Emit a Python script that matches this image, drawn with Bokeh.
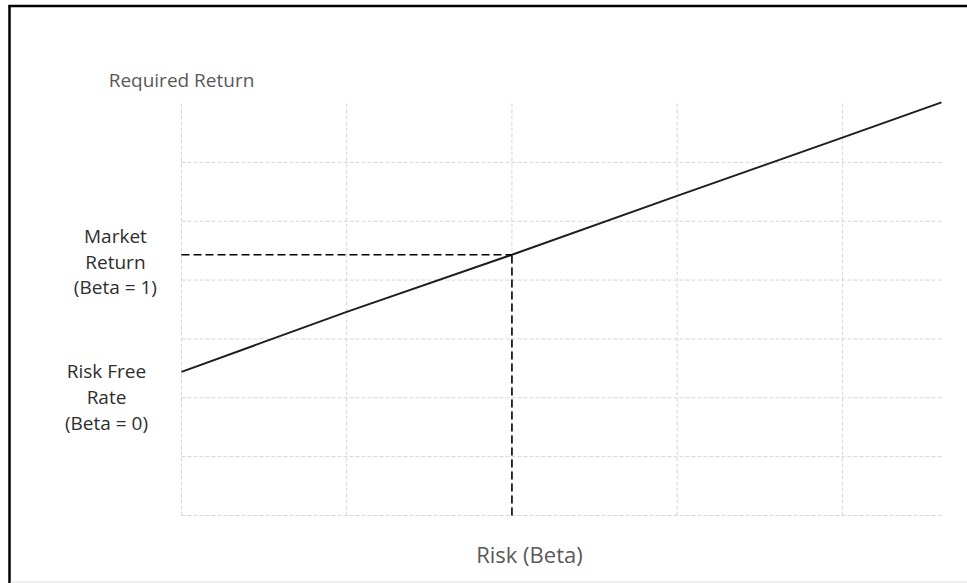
from bokeh.plotting import figure
from bokeh.models import Range1d
from bokeh.core.properties import value
from bokeh.embed import file_html
from bokeh.resources import INLINE

# Security market line: required return against beta
beta = [0.0, 0.5, 1.0, 1.5, 2.0, 2.3]
required_return = [2.44, 3.46, 4.43, 5.43, 6.42, 7.02]

market_beta = 1.0
market_return = 4.43
risk_free_rate = 2.44

x_grid_ticks = [0.0, 0.5, 1.0, 1.5, 2.0]
y_grid_ticks = [0, 1, 2, 3, 4, 5, 6]
x_max, y_max = 2.3, 7.0

market_lines = ["Market", "Return", "(Beta = 1)"]
risk_free_lines = ["Risk Free", "Rate", "(Beta = 0)"]
y_title = "Required Return"
x_title = "Risk (Beta)"

FONT = "Open Sans"
W, H = 967, 583
# plot area in pixels inside the canvas
LEFT, RIGHT, TOP, BOTTOM = 181, 941, 103, 515
sx = (RIGHT - LEFT) / x_max
sy = (BOTTOM - TOP) / y_max


def px_x(px):
    return (px - LEFT) / sx


def px_y(py):
    return (BOTTOM - py) / sy


# the frame spans the whole canvas so labels in the margins are drawn too
p = figure(width=W, height=H,
           x_range=Range1d(px_x(0), px_x(W)), y_range=Range1d(px_y(H), px_y(0)),
           x_axis_type=None, y_axis_type=None,
           toolbar_location=None, output_backend="svg",
           min_border=0)
p.outline_line_color = None
p.background_fill_color = "white"
p.border_fill_color = "white"

# dashed light gridlines over the plot area
grid_style = dict(line_color="#d6d6d6", line_dash="4 2", line_width=1)
p.segment(x0=x_grid_ticks, y0=[0] * len(x_grid_ticks),
          x1=x_grid_ticks, y1=[y_max] * len(x_grid_ticks), **grid_style)
p.segment(x0=[0] * len(y_grid_ticks), y0=y_grid_ticks,
          x1=[x_max] * len(y_grid_ticks), y1=y_grid_ticks, **grid_style)

# the security market line
p.line(beta, required_return, line_color="#1e1e1e", line_width=2)

# guides to the market portfolio
p.line([0, market_beta], [market_return, market_return],
       line_color="black", line_width=1.6, line_dash="8 4")
p.line([market_beta, market_beta], [0, market_return],
       line_color="black", line_width=1.6, line_dash="8 4")

label_style = dict(text_align="center", text_baseline="alphabetic",
                   text_font=value(FONT), text_font_size="19px", text_color="#2e2e2e")

# side labels, one line each
p.text(x=[-0.2] * 3, y=[market_return] * 3, text=market_lines,
       y_offset=[-19, 7, 32], **label_style)
p.text(x=[-0.227] * 3, y=[risk_free_rate] * 3, text=risk_free_lines,
       y_offset=[-1, 25, 51], **label_style)

# axis titles
p.text(x=[0], y=[y_max], text=[y_title], y_offset=[-24],
       text_align="center", text_baseline="alphabetic",
       text_font=value(FONT), text_font_size="19px", text_color="#595959")
p.text(x=[1.053], y=[0], text=[x_title], y_offset=[38],
       text_align="center", text_baseline="alphabetic",
       text_font=value(FONT), text_font_size="22px", text_color="#595959")

# box edges around the chart
p.segment(x0=[px_x(8), px_x(9)], y0=[px_y(5.5), px_y(4.5)],
          x1=[px_x(W), px_x(9)], y1=[px_y(5.5), px_y(H)],
          line_color="black", line_width=2.5)
p.segment(x0=[px_x(10)], y0=[px_y(581.5)], x1=[px_x(W)], y1=[px_y(581.5)],
          line_color="#dcdcdc", line_width=1)

open("out.html", "w").write(file_html(p, INLINE))
